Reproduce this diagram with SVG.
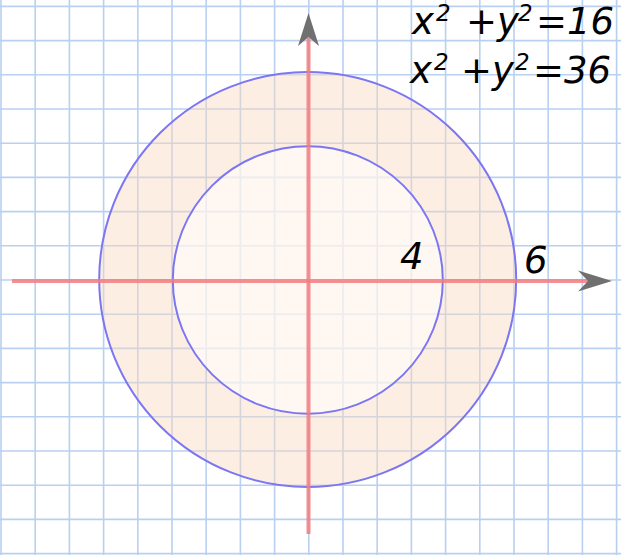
<svg xmlns="http://www.w3.org/2000/svg" width="621" height="555" viewBox="0 0 621 555">
<style>
.g{stroke:#adc8ef;stroke-width:1.6;fill:none}
.c{stroke:#7b76f2;stroke-width:2;}
.ax{stroke:#f27c80;stroke-width:4;stroke-opacity:0.85}
.ar{fill:#707070}
.t{font-family:"DejaVu Sans",sans-serif;font-style:italic;font-size:37px;fill:#000}
.s{font-size:23px}
</style>
<rect width="621" height="555" fill="#ffffff"/>
<g id="grid" class="g" opacity="0.85">
<path d="M1 0V555M35.2 0V555M69.4 0V555M103.6 0V555M137.8 0V555M172 0V555M206.2 0V555M240.4 0V555M274.6 0V555M308.8 0V555M343 0V555M377.2 0V555M411.4 0V555M445.6 0V555M479.8 0V555M514 0V555M548.2 0V555M582.4 0V555M616.6 0V555"/>
<path d="M0 6.4H621M0 40.6H621M0 74.8H621M0 109H621M0 143.2H621M0 177.4H621M0 211.6H621M0 245.8H621M0 280H621M0 314.2H621M0 348.4H621M0 382.6H621M0 416.8H621M0 451H621M0 485.2H621M0 519.4H621M0 553.6H621"/>
</g>
<g id="fill">
<ellipse cx="307.7" cy="279.5" rx="208.5" ry="207.5" fill="#fbd9c2" fill-opacity="0.45"/>
<ellipse cx="307.8" cy="280" rx="135" ry="133.8" fill="#ffffff" fill-opacity="0.55"/>
</g>
<g id="circles" fill="none">
<ellipse id="outer" class="c" cx="307.7" cy="279.5" rx="208.5" ry="207.5"/>
<ellipse id="inner" class="c" cx="307.8" cy="280" rx="135" ry="133.8"/>
</g>
<g id="axes">
<line class="ax" x1="12" y1="281" x2="592" y2="281"/>
<line class="ax" x1="308.5" y1="534" x2="308.5" y2="38"/>
<path class="ar" d="M612 281L578 270.5L588 281L578 291.5Z"/>
<path class="ar" d="M308.5 13L298 46L308.5 37L319 46Z"/>
</g>
<g id="labels" class="t">
<text x="412" y="34">x<tspan class="s" x="436" y="21">2</tspan><tspan x="466" y="34">+y</tspan><tspan class="s" x="518" y="21">2</tspan><tspan x="536" y="34">=16</tspan></text>
<text x="410" y="83">x<tspan class="s" x="434" y="70">2</tspan><tspan x="461" y="83">+y</tspan><tspan class="s" x="515" y="70">2</tspan><tspan x="533" y="83">=36</tspan></text>
<text x="400" y="269">4</text>
<text x="524" y="273">6</text>
</g>
</svg>
